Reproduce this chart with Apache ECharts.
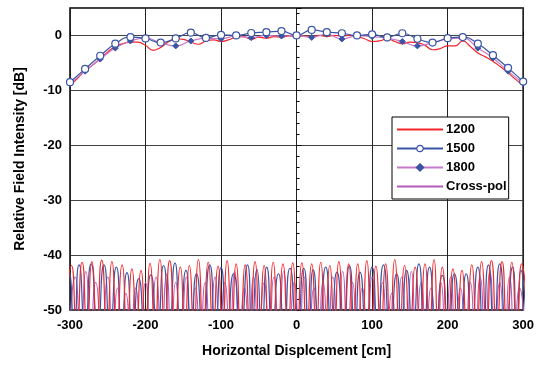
<!DOCTYPE html>
<html><head><meta charset="utf-8">
<script src="https://cdn.jsdelivr.net/npm/echarts@6/dist/echarts.min.js"></script>
<style>html,body{margin:0;padding:0;background:#fff}#c{width:537px;height:365px}</style>
</head><body><div id="c"></div>
<script>
// Co-pol: marker series sampled every 20 cm
const xMarkers = [-300,-280,-260,-240,-220,-200,-180,-160,-140,-120,-100,-80,-60,-40,-20,0,20,40,60,80,100,120,140,160,180,200,220,240,260,280,300];
const f1500 = [-8.5,-6.1,-3.7,-1.5,-0.3,-0.55,-1.3,-0.55,0.5,-0.45,0.1,0,0.45,0.6,0.8,0,1.0,0.6,0.4,0,0.2,-0.35,0.4,-0.6,-1.3,-0.5,-0.3,-1.5,-3.6,-5.9,-8.4];
const f1800 = [-8.8,-6.5,-4.3,-2.3,-1.0,-0.5,-1.3,-1.9,-1.0,-0.55,-0.6,-0.1,-0.4,0,-0.1,0,-0.35,0.25,-0.65,-0.05,-0.2,-0.5,-1.1,-1.9,-1.3,-0.65,-0.5,-2.3,-4.1,-6.5,-8.7];
// 1200 sampled every 10 cm
const x1200 = [-300,-290,-280,-270,-260,-250,-240,-230,-220,-210,-200,-190,-180,-170,-160,-150,-140,-130,-120,-110,-100,-90,-80,-70,-60,-50,-40,-30,-20,-10,0,10,20,30,40,50,60,70,80,90,100,110,120,130,140,150,160,170,180,190,200,210,220,230,240,250,260,270,280,290,300];
const f1200 = [-9.1,-7.8,-6.4,-5.4,-4.2,-3.0,-2.0,-1.5,-1.2,-1.2,-1.8,-2.7,-2.2,-1.2,-0.6,-0.7,-1.2,-1.6,-1.0,-0.8,-1.1,-0.8,-0.3,-0.2,-0.7,-0.3,-0.5,-0.2,-0.3,-0.1,-0.2,-0.1,-0.2,0,-0.2,0,-0.1,0,-0.2,-0.6,-1.1,-1.0,-0.6,-1.1,-1.5,-1.2,-1.3,-1.8,-2.6,-2.4,-1.9,-1.9,-1.0,-2.0,-3.2,-3.9,-4.7,-5.7,-6.8,-8.0,-9.1];

// Cross-pol lobes: [position cm, level dB] (nulls and peaks as read)
const xpol1200 = [[-305,-53],[-298,-41.9],[-291,-53],[-284,-41.3],[-277.5,-53],[-271,-41.2],[-264.5,-53],[-258,-40.9],[-251,-53],[-244.5,-41.2],[-238,-53],[-231,-41.8],[-224.5,-53],[-218,-42.5],[-212,-53],[-206,-42.8],[-200,-53],[-194,-41.5],[-187.5,-53],[-181,-40.8],[-174.5,-53],[-168,-41.0],[-161,-53],[-154,-42.2],[-148,-53],[-142,-41.9],[-136,-53],[-130,-40.8],[-123.5,-53],[-117,-41.3],[-110.5,-53],[-104,-42.0],[-98,-53],[-92,-41.0],[-86,-53],[-80,-41.6],[-74,-53],[-68,-41.8],[-61.5,-53],[-55,-41.2],[-49,-53],[-43,-41.9],[-37,-53],[-31,-41.3],[-24.5,-53],[-18,-41.6],[-11.5,-53],[-5,-41.4],[1,-53],[7,-41.4],[13.5,-53],[20,-41.6],[26,-53],[32,-41.3],[38,-53],[44,-41.9],[50,-53],[56,-41.2],[62.5,-53],[69,-41.6],[75,-53],[81,-41.6],[87,-53],[93,-41.0],[99,-53],[105,-42.0],[111.5,-53],[118,-41.6],[124,-53],[130,-40.8],[136.5,-53],[143,-41.9],[150,-53],[157,-42.2],[163.5,-53],[170,-41.6],[176,-53],[182,-40.8],[187.5,-53],[193,-42.2],[200,-53],[207,-42.5],[213,-53],[219,-42.8],[225.5,-53],[232,-41.8],[238.5,-53],[245,-41.2],[251.5,-53],[258,-41.0],[265,-53],[272,-41.2],[278.5,-53],[285,-41.3],[291.5,-53],[298,-41.6],[305,-53]];
const xpol1500 = [[-308,-53],[-301,-43.0],[-294.5,-53],[-288,-41.8],[-280,-53],[-272,-41.6],[-263.5,-53],[-255,-41.8],[-247,-53],[-238.6,-42.2],[-231.5,-53],[-224.6,-43.2],[-217,-53],[-209,-44.3],[-201,-53],[-193,-43.6],[-184.5,-53],[-176,-41.9],[-168.5,-53],[-161,-41.4],[-154,-53],[-146.5,-42.8],[-139.5,-53],[-132.5,-43.4],[-124,-53],[-115,-41.8],[-107.5,-53],[-100,-42.3],[-92,-53],[-83.3,-43.4],[-74,-53],[-65,-41.8],[-59,-53],[-52.6,-42.6],[-46,-53],[-39.5,-42.2],[-32,-53],[-24,-43.4],[-16.5,-53],[-8.8,-42.4],[0.5,-53],[9.6,-42.4],[16,-53],[22,-42.7],[30,-53],[38.6,-42.2],[46,-53],[53.5,-43.1],[62,-53],[70,-41.9],[77,-53],[84,-43.1],[92,-53],[100,-42.2],[107.5,-53],[115,-41.8],[124,-53],[132.5,-43.4],[139,-53],[145.6,-42.8],[154,-53],[162,-41.6],[169,-53],[176,-42.2],[184.5,-53],[193,-43.7],[201,-53],[209,-43.4],[217,-53],[224.6,-43.4],[232,-53],[240,-42.2],[247,-53],[254,-41.8],[261.5,-53],[269,-41.6],[277.5,-53],[286,-42.2],[291.5,-53],[297,-42.8],[304,-53]];
const xpol1800 = [[-300,-54],[-293,-44.0],[-286,-54],[-279,-43.0],[-272.5,-54],[-266,-45.0],[-258,-54],[-250,-44.0],[-243.5,-54],[-237,-46.0],[-231.5,-54],[-226,-47.0],[-219.5,-54],[-213,-46.0],[-206.5,-54],[-200,-45.0],[-193,-54],[-186,-44.0],[-179,-54],[-172,-43.5],[-166,-54],[-160,-45.0],[-153,-54],[-146,-44.0],[-140,-54],[-134,-46.0],[-127.5,-54],[-121,-45.0],[-114.5,-54],[-108,-44.0],[-101.5,-54],[-95,-45.0],[-88.5,-54],[-82,-43.0],[-75.5,-54],[-69,-46.0],[-63,-54],[-57,-44.0],[-50,-54],[-43,-45.0],[-36.5,-54],[-30,-44.0],[-23.5,-54],[-17,-43.0],[-10,-54],[-3,-45.0],[3.5,-54],[10,-44.0],[16.5,-54],[23,-46.0],[29,-54],[35,-45.0],[41.5,-54],[48,-44.0],[54.5,-54],[61,-43.0],[67.5,-54],[74,-45.0],[80.5,-54],[87,-46.0],[93.5,-54],[100,-44.0],[107,-54],[114,-45.0],[120,-54],[126,-47.0],[132.5,-54],[139,-44.0],[145.5,-54],[152,-43.0],[158.5,-54],[165,-45.0],[171.5,-54],[178,-46.0],[184.5,-54],[191,-45.0],[197.5,-54],[204,-44.0],[210.5,-54],[217,-46.0],[223.5,-54],[230,-45.0],[236.5,-54],[243,-44.0],[249.5,-54],[256,-43.0],[262.5,-54],[269,-45.0],[275.5,-54],[282,-44.0],[288.5,-54],[295,-46.0],[302,-54]];

const RED = '#f2262b', BLUE = '#3b55a6', PINK = '#c77ac9', PURPLE = '#b35ab8';
const FONT = 'Liberation Sans, Arial, sans-serif';
const zip = (xs, ys) => xs.map((x, i) => [x, ys[i]]);
const NOMARK = {color: 'rgba(0,0,0,0)', borderColor: 'rgba(0,0,0,0)', borderWidth: 0};

const chart = echarts.init(document.getElementById('c'), null, {renderer: 'canvas'});
chart.setOption({
  animation: false,
  backgroundColor: '#fff',
  grid: {left: 70, right: 11, top: 8, bottom: 55, show: true, borderColor: '#000', borderWidth: 1.5, backgroundColor: 'transparent'},
  legend: {
    data: [
      {name: '1200', itemStyle: NOMARK},
      {name: '1500', itemStyle: {color: '#fff', borderColor: BLUE, borderWidth: 1.2}},
      {name: '1800'},
      {name: 'Cross-pol', itemStyle: NOMARK}
    ],
    orient: 'vertical', left: 392, top: 117,
    backgroundColor: '#fff', borderColor: '#000', borderWidth: 1,
    padding: [6, 2, 6, 4], itemWidth: 46, itemHeight: 8, itemGap: 6,
    textStyle: {fontFamily: FONT, fontWeight: 'bold', fontSize: 13, color: '#000', padding: [0, 0, 0, -2]}
  },
  xAxis: {
    type: 'value', min: -300, max: 300, interval: 100,
    name: 'Horizontal Displcement [cm]', nameLocation: 'middle', nameGap: 34,
    nameTextStyle: {fontFamily: FONT, fontWeight: 'bold', fontSize: 14, color: '#000'},
    axisLine: {show: false},
    axisTick: {show: true, inside: true, length: 4, lineStyle: {color: '#000'}},
    axisLabel: {fontFamily: FONT, fontWeight: 'bold', fontSize: 13, color: '#000', margin: 9},
    splitLine: {show: true, lineStyle: {color: '#222', width: 1}}
  },
  yAxis: {
    type: 'value', min: -50, max: 5, interval: 10,
    name: 'Relative Field Intensity [dB]', nameLocation: 'middle', nameGap: 43,
    nameTextStyle: {fontFamily: FONT, fontWeight: 'bold', fontSize: 14, color: '#000'},
    axisLine: {show: false},
    axisTick: {show: true, inside: true, length: 5, lineStyle: {color: '#000'}},
    minorTick: {show: true, splitNumber: 5, length: 3, lineStyle: {color: '#000'}},
    axisLabel: {fontFamily: FONT, fontWeight: 'bold', fontSize: 13, color: '#000', margin: 8,
      formatter: v => (v > 0 ? '' : String(v))},
    splitLine: {show: true, lineStyle: {color: '#444', width: 1}}
  },
  series: [
    {name: '_x1200', type: 'line', data: xpol1200, smooth: 0.7, symbol: 'none', lineStyle: {color: RED, width: 1.2}, itemStyle: {color: RED}, z: 3},
    {name: '_x1500', type: 'line', data: xpol1500, smooth: 0.7, symbol: 'none', lineStyle: {color: BLUE, width: 1.2}, itemStyle: {color: BLUE}, z: 2},
    {name: 'Cross-pol', type: 'line', data: xpol1800, smooth: 0.7, symbol: 'none', lineStyle: {color: PURPLE, width: 1.1}, itemStyle: {color: PURPLE}, z: 1},
    {name: '1200', type: 'line', data: zip(x1200, f1200), smooth: 0.5, symbol: 'none', lineStyle: {color: RED, width: 1.2}, itemStyle: {color: RED}, z: 5},
    {name: '1800', type: 'line', data: zip(xMarkers, f1800), smooth: 0.5, symbol: 'diamond', symbolSize: 6,
      lineStyle: {color: PINK, width: 1.2}, itemStyle: {color: BLUE, borderColor: BLUE, borderWidth: 1}, z: 6},
    {name: '1500', type: 'line', data: zip(xMarkers, f1500), smooth: 0.5, symbol: 'circle', symbolSize: 7,
      lineStyle: {color: BLUE, width: 1.2}, itemStyle: {color: '#fff', borderColor: BLUE, borderWidth: 1.2}, z: 7}
  ]
});
</script>
</body></html>
